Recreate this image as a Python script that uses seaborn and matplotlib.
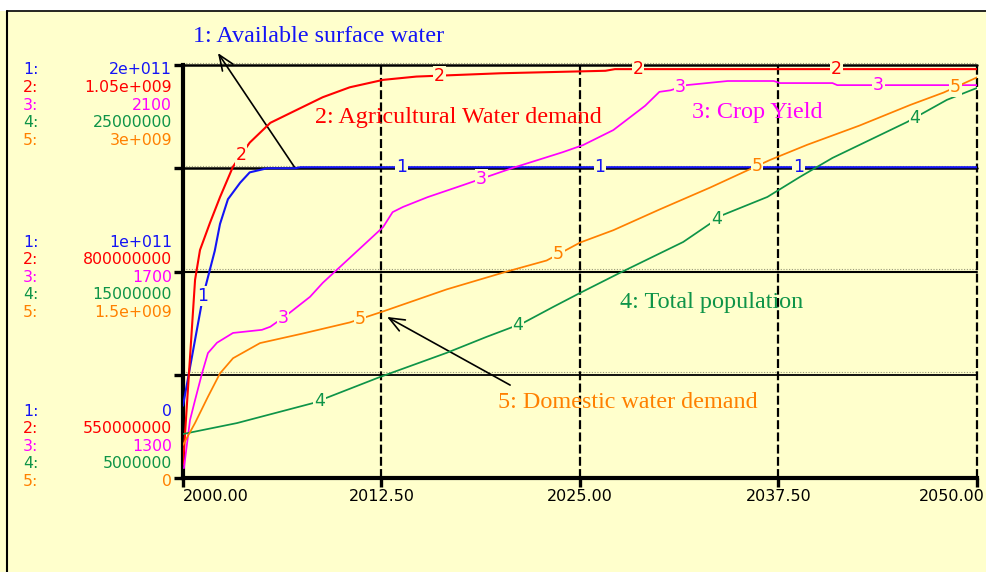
import numpy as np
import matplotlib
matplotlib.use("Agg")
import matplotlib.pyplot as plt
from matplotlib.lines import Line2D
from matplotlib.patches import Rectangle
import seaborn as sns

sns.set_style("white")
plt.rcParams['font.family'] = ['DejaVu Sans']

BG = '#FFFFCC'

# 1: Available surface water (scale 0 .. 2e11)
water_years = [2000.0, 2001.26, 2002.0, 2002.33, 2002.83, 2003.6, 2004.2, 2005.3, 2007.05, 2007.4, 2050.0]
water_vals = [3.5e10, 8.8e10, 1.10e11, 1.23e11, 1.35e11, 1.43e11, 1.48e11, 1.50e11, 1.50e11, 1.505e11, 1.505e11]

# 2: Agricultural water demand (scale 5.5e8 .. 1.05e9)
agri_years = [2000.0, 2000.76, 2001.07, 2001.7, 2002.33, 2003.15, 2004.2, 2005.5, 2007.2, 2008.8,
              2010.5, 2012.6, 2014.7, 2020.0, 2026.6, 2027.2, 2050.0]
agri_vals = [5.66e8, 7.9e8, 8.26e8, 8.59e8, 8.9e8, 9.27e8, 9.56e8, 9.8e8, 9.96e8, 1.011e9,
             1.023e9, 1.032e9, 1.036e9, 1.040e9, 1.043e9, 1.045e9, 1.045e9]

# 3: Crop yield (scale 1300 .. 2100)
crop_years = [2000.06, 2000.44, 2000.76, 2001.2, 2001.57, 2002.14, 2003.15, 2004.97, 2005.5, 2006.55,
              2008.0, 2008.8, 2012.6, 2013.2, 2013.85, 2015.4, 2017.6, 2020.8, 2023.9, 2025.2,
              2027.1, 2029.1, 2030.0, 2030.7, 2031.7, 2033.0, 2034.3, 2037.2, 2037.6, 2040.9,
              2041.2, 2050.0]
crop_vals = [1319, 1412, 1451, 1503, 1542, 1562, 1581, 1587, 1593, 1616,
             1651, 1678, 1786, 1815, 1825, 1844, 1867, 1901, 1931, 1945,
             1974, 2021, 2048, 2051, 2061, 2065, 2069, 2069, 2065, 2065,
             2061, 2061]

# 4: Total population (scale 5e6 .. 2.5e7)
pop_years = [2000.0, 2003.4, 2008.2, 2012.4, 2016.6, 2019.1, 2021.4, 2023.3, 2025.0, 2027.5,
             2031.5, 2034.0, 2036.8, 2038.85, 2040.9, 2045.6, 2048.1, 2050.0]
pop_vals = [7.13e6, 7.66e6, 8.63e6, 9.89e6, 1.106e7, 1.183e7, 1.25e7, 1.328e7, 1.396e7, 1.493e7,
            1.643e7, 1.774e7, 1.861e7, 1.958e7, 2.05e7, 2.224e7, 2.331e7, 2.389e7]

# 5: Domestic water demand (scale 0 .. 3e9)
dom_years = [2000.0, 2000.76, 2001.57, 2002.33, 2003.15, 2004.85, 2007.56, 2010.5, 2012.6, 2016.6,
             2020.4, 2022.9, 2025.0, 2027.1, 2030.0, 2033.2, 2036.96, 2039.3, 2042.6, 2045.8,
             2047.9, 2050.0]
dom_vals = [2.4e8, 4.0e8, 5.9e8, 7.6e8, 8.7e8, 9.8e8, 1.05e9, 1.13e9, 1.21e9, 1.37e9,
            1.50e9, 1.58e9, 1.71e9, 1.80e9, 1.95e9, 2.11e9, 2.31e9, 2.42e9, 2.56e9, 2.71e9,
            2.80e9, 2.91e9]

scale_lo = [0, 5.5e8, 1300, 5e6, 0]
scale_hi = [2e11, 1.05e9, 2100, 2.5e7, 3e9]
top_labels = ['2e+011', '1.05e+009', '2100', '25000000', '3e+009']
mid_labels = ['1e+011', '800000000', '1700', '15000000', '1.5e+009']
bot_labels = ['0', '550000000', '1300', '5000000', '0']

x_ticks = [2000, 2012.5, 2025, 2037.5, 2050]
colors = ['#1414F5', '#FF0000', '#FF00FF', '#0E9448', '#FF8000']
names = ['1: Available surface water', '2: Agricultural Water demand', '3: Crop Yield',
         '4: Total population', '5: Domestic water demand']

series = [(water_years, water_vals), (agri_years, agri_vals), (crop_years, crop_vals),
          (pop_years, pop_vals), (dom_years, dom_vals)]

W, H = 987, 572
fig = plt.figure(figsize=(W / 100, H / 100), dpi=100)
fig.patch.set_facecolor(BG)

def fx(px):
    return px / W

def fy(py):
    return 1 - py / H

# window frame
fig.patches.append(Rectangle((0, fy(11)), 1, 11 / H, transform=fig.transFigure,
                             facecolor='white', edgecolor='none', zorder=0))
fig.add_artist(Line2D([fx(7), 1], [fy(11), fy(11)], transform=fig.transFigure, color='k', lw=1.2))
fig.add_artist(Line2D([fx(7), fx(7)], [0, fy(11)], transform=fig.transFigure, color='k', lw=1.5))

ax = fig.add_axes([fx(183), fy(478), (977 - 183) / W, (478 - 65) / H])
ax.set_facecolor('none')
ax.set_xlim(2000, 2050)
ax.set_ylim(0, 1)
ax.set_xticks(x_ticks)
ax.set_xticklabels([])
ax.set_yticks([0, 0.25, 0.5, 0.75, 1])
ax.set_yticklabels([])
ax.tick_params(axis='both', direction='out', length=6.5, width=2.4, color='k',
               left=True, bottom=True)
for s in ['top', 'right']:
    ax.spines[s].set_visible(False)
for s in ['left', 'bottom']:
    ax.spines[s].set_linewidth(3)
    ax.spines[s].set_color('k')

# grid
for yv, lw in [(0.25, 1.3), (0.5, 1.5), (0.75, 1.8), (1.0, 1.8)]:
    ax.axhline(yv, color='k', lw=lw, zorder=1, clip_on=False)
    ax.axhline(yv + 0.006, color='#9a9a7a', lw=0.8, ls=(0, (1, 1.5)), zorder=1, clip_on=False)
for xv in x_ticks[1:]:
    ax.axvline(xv, color='k', lw=1.6, ls=(0, (4, 1.5)), zorder=1, clip_on=False)

# x tick labels
ax.text(2000, -0.046, '2000.00', transform=ax.get_xaxis_transform(), ha='left', va='center',
        fontsize=11.5, color='k')
for xv in x_ticks[1:-1]:
    ax.text(xv, -0.046, f'{xv:.2f}', transform=ax.get_xaxis_transform(), ha='center',
            va='center', fontsize=11.5, color='k')
ax.text(2050.5, -0.046, '2050.00', transform=ax.get_xaxis_transform(), ha='right',
        va='center', fontsize=11.5, color='k')

# left scale labels
groups = [(top_labels, 70), (mid_labels, 242), (bot_labels, 411)]
for labels, y0 in groups:
    for i, lab in enumerate(labels):
        yy = y0 + i * 17.6
        fig.text(fx(23), fy(yy), f'{i + 1}:', color=colors[i], fontsize=11.3, ha='left', va='center')
        fig.text(fx(172), fy(yy), lab, color=colors[i], fontsize=11.3, ha='right', va='center')

# series, each on its own scale
label_offsets = [1.26, 3.65, 6.3, 8.6, 11.15]
for i, (yrs, vals) in enumerate(series):
    tw = ax.twinx()
    tw.set_ylim(scale_lo[i], scale_hi[i])
    tw.set_xlim(2000, 2050)
    tw.axis('off')
    lw = 1.5 if i < 2 else 1.25
    sns.lineplot(x=yrs, y=vals, ax=tw, color=colors[i], lw=lw, sort=False,
                 estimator=None, legend=False)
    for k in range(4):
        lx = 2000 + label_offsets[i] + 12.5 * k
        ly = np.interp(lx, yrs, vals)
        tw.text(lx, ly, str(i + 1), color=colors[i], fontsize=12.5, ha='center', va='center',
                zorder=5, bbox=dict(facecolor=BG, edgecolor='none', pad=0.6))

# annotations
serif = ['Liberation Serif', 'DejaVu Serif']
text_pos = [(2000.63, 1.070), (2008.31, 0.872), (2032.05, 0.884), (2027.52, 0.424), (2019.84, 0.184)]
for i, (tx, ty) in enumerate(text_pos):
    ax.text(tx, ty, names[i], color=colors[i], fontsize=17.4, family=serif,
            ha='left', va='center', clip_on=False, zorder=6)

arrow_style = dict(arrowstyle='->,head_length=1.1,head_width=0.45', color='k', lw=1.2,
                   shrinkA=0, shrinkB=0)
ax.annotate('', xy=(2002.2, 1.029), xytext=(2007.05, 0.751), arrowprops=arrow_style,
            annotation_clip=False, zorder=6)
ax.annotate('', xy=(2012.85, 0.390), xytext=(2020.6, 0.225), arrowprops=arrow_style,
            annotation_clip=False, zorder=6)

fig.savefig('out.png', dpi=100, facecolor=BG)
